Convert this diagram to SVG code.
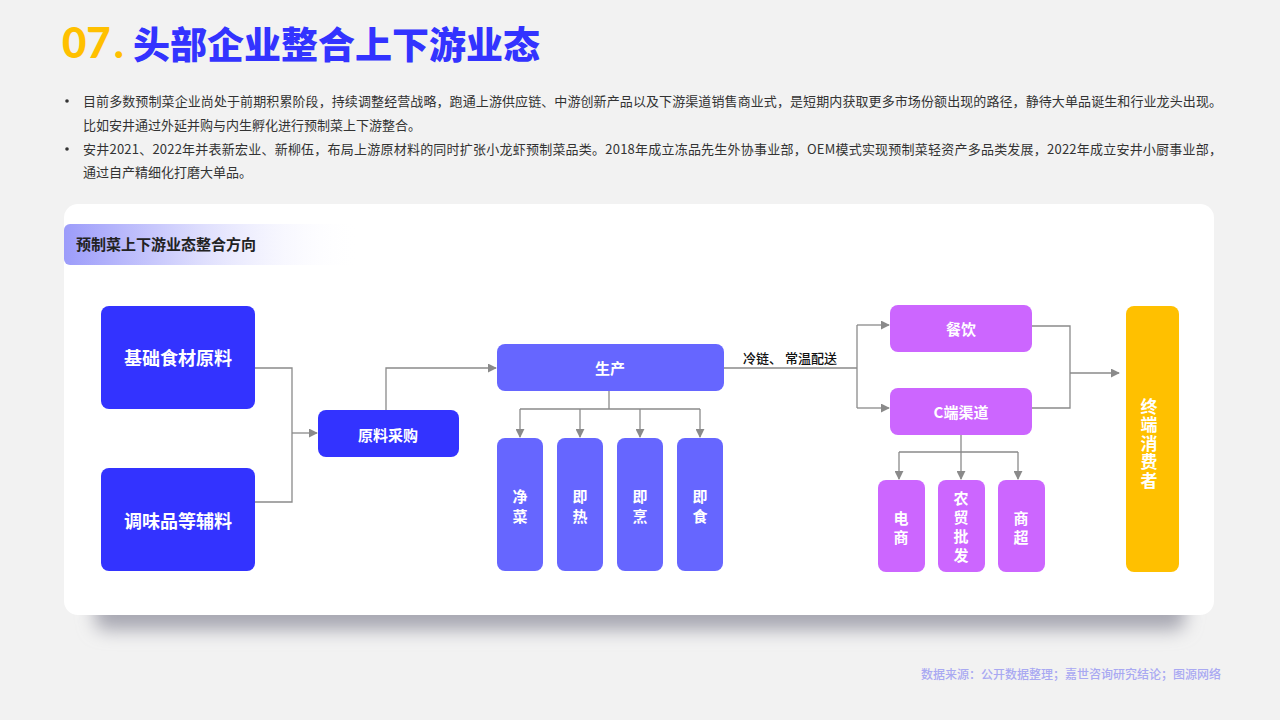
<svg xmlns="http://www.w3.org/2000/svg" width="1280" height="720" viewBox="0 0 1280 720">
<defs>
<style>
.cjk{font-family:"Noto Sans CJK SC","Noto Sans",sans-serif}
.body{font-size:13px;fill:#333}
.nt{font-family:"Noto Sans CJK SC","Noto Sans",sans-serif;fill:#fff;font-weight:700;text-anchor:middle;dominant-baseline:central}
.conn{fill:none;stroke:#8a8a8a;stroke-width:1.3}
.dark{fill:#3333ff}
.mid{fill:#6666ff}
.pur{fill:#cc66ff}
</style>
<marker id="arr" viewBox="0 0 10 10" refX="9" refY="5" markerWidth="9" markerHeight="9" markerUnits="userSpaceOnUse" orient="auto">
<path d="M0,0 L10,5 L0,10 z" fill="#8a8a8a"/>
</marker>
<linearGradient id="hdr" x1="0" y1="0" x2="1" y2="0">
<stop offset="0" stop-color="#9c9cfa"/>
<stop offset="0.45" stop-color="#dcdcfd"/>
<stop offset="1" stop-color="#ffffff" stop-opacity="0"/>
</linearGradient>
<filter id="blur" x="-10%" y="-100%" width="120%" height="300%">
<feGaussianBlur stdDeviation="9"/>
</filter>
</defs>
<rect width="1280" height="720" fill="#f2f2f2"/>

<g id="title">
<text x="62" y="58" font-family="Lato,'Noto Sans',sans-serif" font-weight="900" font-size="42" fill="#ffc000">07<tspan dx="3">.</tspan></text>
<text x="133" y="59" class="cjk" font-weight="900" font-size="37" fill="#3333ff">头部企业整合上下游业态</text>
</g>

<g id="bullets" class="cjk body">
<circle cx="67" cy="101" r="1.8" fill="#333"/>
<text x="83" y="106" textLength="1139" lengthAdjust="spacing">目前多数预制菜企业尚处于前期积累阶段，持续调整经营战略，跑通上游供应链、中游创新产品以及下游渠道销售商业式，是短期内获取更多市场份额出现的路径，静待大单品诞生和行业龙头出现。</text>
<text x="83" y="130">比如安井通过外延并购与内生孵化进行预制菜上下游整合。</text>
<circle cx="67" cy="149" r="1.8" fill="#333"/>
<text x="83" y="154" textLength="1139" lengthAdjust="spacing">安井2021、2022年并表新宏业、新柳伍，布局上游原材料的同时扩张小龙虾预制菜品类。2018年成立冻品先生外协事业部，OEM模式实现预制菜轻资产多品类发展，2022年成立安井小厨事业部，</text>
<text x="83" y="177">通过自产精细化打磨大单品。</text>
</g>

<g id="card">
<rect x="95" y="585" width="1090" height="45" rx="10" fill="#a8a8b2" filter="url(#blur)"/>
<rect x="64" y="204" width="1150" height="411" rx="14" fill="#ffffff"/>
<path d="M70,224 H360 V265 H70 A6,6 0 0 1 64,259 V230 A6,6 0 0 1 70,224 z" fill="url(#hdr)"/>
<text x="76" y="250" class="cjk" font-weight="700" font-size="15" fill="#222">预制菜上下游业态整合方向</text>
</g>

<g id="connectors">
<path class="conn" d="M255,368 H292 V502 H255"/>
<path class="conn" d="M292,433 H317" marker-end="url(#arr)"/>
<path class="conn" d="M386,410 V368 H496" marker-end="url(#arr)"/>
<path class="conn" d="M609,391 V409"/>
<path class="conn" d="M520,409 H700"/>
<path class="conn" d="M520,409 V437" marker-end="url(#arr)"/>
<path class="conn" d="M580,409 V437" marker-end="url(#arr)"/>
<path class="conn" d="M640,409 V437" marker-end="url(#arr)"/>
<path class="conn" d="M700,409 V437" marker-end="url(#arr)"/>
<path class="conn" d="M724,368 H857"/>
<path class="conn" d="M857,325 V408"/>
<path class="conn" d="M857,325 H889" marker-end="url(#arr)"/>
<path class="conn" d="M857,408 H889" marker-end="url(#arr)"/>
<path class="conn" d="M1032,326 H1070 V408 H1032"/>
<path class="conn" d="M1070,373 H1119" marker-end="url(#arr)"/>
<path class="conn" d="M961,435 V479" marker-end="url(#arr)"/>
<path class="conn" d="M899,452 H1018"/>
<path class="conn" d="M899,452 V479" marker-end="url(#arr)"/>
<path class="conn" d="M1018,452 V479" marker-end="url(#arr)"/>
<text x="743" y="363" class="cjk" font-size="13" font-weight="500" fill="#111">冷链、 常温配送</text>
</g>

<g id="n-jichu"><rect x="101" y="306" width="154" height="103" rx="8" class="dark"/><text x="178" y="357" class="nt" font-size="18">基础食材原料</text></g>
<g id="n-tiaowei"><rect x="101" y="468" width="154" height="103" rx="8" class="dark"/><text x="178" y="520" class="nt" font-size="18">调味品等辅料</text></g>
<g id="n-caigou"><rect x="318" y="410" width="141" height="47" rx="8" class="dark"/><text x="388" y="434" class="nt" font-size="15">原料采购</text></g>
<g id="n-shengchan"><rect x="497" y="344" width="227" height="47" rx="8" class="mid"/><text x="610" y="367" class="nt" font-size="15">生产</text></g>
<g id="n-jingcai"><rect x="497" y="438" width="46" height="133" rx="8" class="mid"/><text x="520" y="495" class="nt" font-size="15">净</text><text x="520" y="515" class="nt" font-size="15">菜</text></g>
<g id="n-jire"><rect x="557" y="438" width="46" height="133" rx="8" class="mid"/><text x="580" y="495" class="nt" font-size="15">即</text><text x="580" y="515" class="nt" font-size="15">热</text></g>
<g id="n-jipeng"><rect x="617" y="438" width="46" height="133" rx="8" class="mid"/><text x="640" y="495" class="nt" font-size="15">即</text><text x="640" y="515" class="nt" font-size="15">烹</text></g>
<g id="n-jishi"><rect x="677" y="438" width="46" height="133" rx="8" class="mid"/><text x="700" y="495" class="nt" font-size="15">即</text><text x="700" y="515" class="nt" font-size="15">食</text></g>
<g id="n-canyin"><rect x="890" y="305" width="142" height="47" rx="8" class="pur"/><text x="961" y="328" class="nt" font-size="15">餐饮</text></g>
<g id="n-cduan"><rect x="890" y="388" width="142" height="47" rx="8" class="pur"/><text x="961" y="411" class="nt" font-size="15">C端渠道</text></g>
<g id="n-dianshang"><rect x="878" y="480" width="47" height="92" rx="8" class="pur"/><text x="901" y="517" class="nt" font-size="15">电</text><text x="901" y="536" class="nt" font-size="15">商</text></g>
<g id="n-nongmao"><rect x="938" y="480" width="47" height="92" rx="8" class="pur"/><text x="961" y="497" class="nt" font-size="15">农</text><text x="961" y="516" class="nt" font-size="15">贸</text><text x="961" y="535" class="nt" font-size="15">批</text><text x="961" y="554" class="nt" font-size="15">发</text></g>
<g id="n-shangchao"><rect x="998" y="480" width="47" height="92" rx="8" class="pur"/><text x="1021" y="517" class="nt" font-size="15">商</text><text x="1021" y="536" class="nt" font-size="15">超</text></g>
<g id="n-zhongduan"><rect x="1126" y="306" width="53" height="266" rx="8" fill="#ffc000"/>
<text x="1149" y="444" font-family="'Noto Sans CJK SC','Noto Sans',sans-serif" font-weight="700" font-size="17" fill="#fff" writing-mode="vertical-rl" text-anchor="middle" letter-spacing="1.5">终端消费者</text></g>

<text id="source" x="921" y="679" class="cjk" font-size="12" font-weight="500" fill="#a9a9f2">数据来源：公开数据整理；嘉世咨询研究结论；图源网络</text>
</svg>
